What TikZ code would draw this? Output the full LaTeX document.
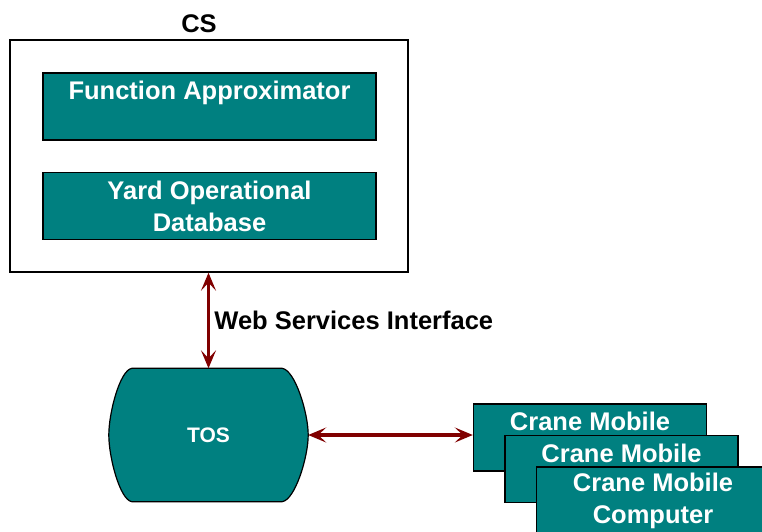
\documentclass[tikz,border=0pt]{standalone}
\usepackage{fontspec}
\setmainfont{Liberation Sans}
\usepackage{xcolor}
\usetikzlibrary{calc,arrows.meta,backgrounds}
\definecolor{boxfill}{HTML}{008080}
\definecolor{linkred}{HTML}{800000}
\tikzset{
  frame/.style={draw=black, line width=1.4pt, minimum width=398pt, minimum height=232pt},
  part/.style={draw=black, fill=boxfill, line width=1.4pt, text=white, align=center,
    font=\bfseries\fontsize{25.5}{32}\selectfont, minimum height=67pt, inner sep=0pt},
  store/.style={text=white, font=\bfseries\fontsize{21}{24}\selectfont,
    minimum width=199pt, minimum height=133pt, inner sep=0pt},
  storeline/.style={draw=black, fill=boxfill, line width=1.2pt},
  title/.style={text=black, font=\bfseries\fontsize{25.5}{28}\selectfont},
  link/.style={draw=linkred, line width=3.2pt, {Stealth[length=18pt,width=15pt,inset=8pt]}-{Stealth[length=18pt,width=15pt,inset=8pt]}}
}

\begin{document}
\begin{tikzpicture}[x=1pt,y=-1pt]
  \useasboundingbox (0,0) rectangle (762,531);

  % CS with its parts
  \node[frame] (cs) at (209,156) {};
  \node[title] (cslabel) at (199,24) {CS};
  \node[part, minimum width=333pt] (approx) at (209.5,106.5) {Function Approximator\\ \mbox{}};
  \node[part, minimum width=333pt] (yard) at (209.5,206) {Yard Operational\\Database};

  % TOS, flat top and bottom, bulging sides
  \node[store] (tos) at (208.5,435) {TOS};
  \begin{pgfonlayer}{background}
    \path[storeline] ($(tos.north west)+(23,0)$) -- ($(tos.north east)+(-26,0)$)
      .. controls ($(tos.north east)+(-13,2)$) and ($(tos.east)+(0,-22)$) .. (tos.east)
      .. controls ($(tos.east)+(0,22)$) and ($(tos.south east)+(-13,-2)$) .. ($(tos.south east)+(-26,0)$)
      -- ($(tos.south west)+(23,0)$)
      .. controls ($(tos.south west)+(11,-2)$) and ($(tos.west)+(0,22)$) .. (tos.west)
      .. controls ($(tos.west)+(0,-22)$) and ($(tos.north west)+(11,2)$) .. cycle;
  \end{pgfonlayer}

  % crane computers, stacked
  \node[part, minimum width=233pt] (crane1) at (590,437.5) {Crane Mobile\\ \mbox{}};
  \node[part, minimum width=233pt] (crane2) at ($(crane1)+(31.5,31.5)$) {Crane Mobile\\ \mbox{}};
  \node[part, minimum width=233pt] (crane3) at ($(crane2)+(31.5,31.5)$) {Crane Mobile\\Computer};

  % interfaces
  \draw[link] (cs.south -| tos.north) -- (tos.north) node[title, midway, right=1pt] (wsi) {Web Services Interface};
  \draw[link] (tos.east) -- (tos.east -| crane1.west);
\end{tikzpicture}
\end{document}
